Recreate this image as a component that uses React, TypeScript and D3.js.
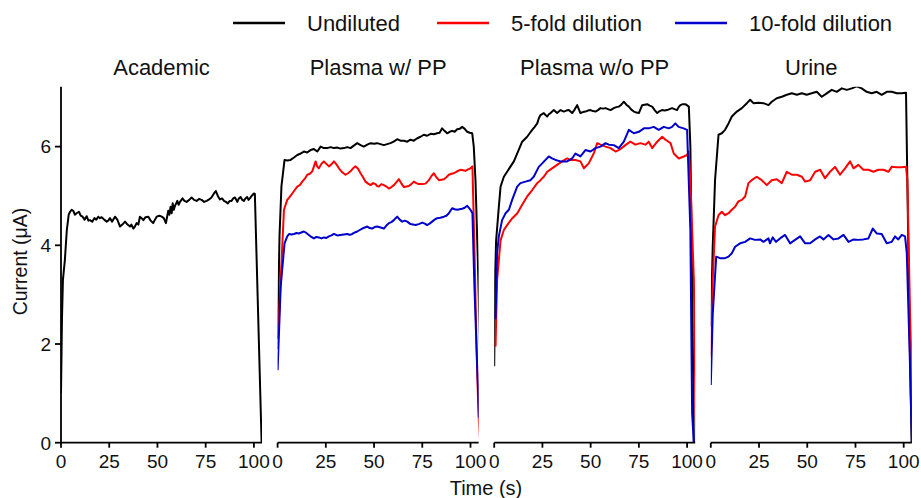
import React from 'react';
import * as d3 from 'd3';

type Pt = [number, number];

const PANELS = ['Academic', 'Plasma w/ PP', 'Plasma w/o PP', 'Urine'];
const SERIES = ['Undiluted', '5-fold dilution', '10-fold dilution'];
const COLORS = ['#000000', '#ff0000', '#0000cd'];
const X_TICKS = [0, 25, 50, 75, 100];
const Y_TICKS = [0, 2, 4, 6];

// [time (s), current (µA)]
const academicUndiluted: Pt[] = [[0,1.0],[0.5,2.5],[1,3.3],[2,3.7],[3,4.3],[4,4.62],[4.7,4.68],[5.5,4.72],[6.4,4.70],[7.2,4.62],[8.1,4.65],[9.3,4.68],[10.2,4.6],[11.2,4.58],[12.2,4.52],[13.3,4.59],[14.2,4.5],[15,4.51],[16.2,4.48],[17.3,4.55],[18.3,4.52],[19.3,4.58],[20.2,4.55],[21.1,4.57],[22.4,4.52],[23.7,4.48],[24.5,4.5],[25.4,4.55],[26.5,4.48],[28,4.58],[29.2,4.52],[30.6,4.38],[31.8,4.42],[33.2,4.48],[34.5,4.42],[35.8,4.38],[36.5,4.42],[37.5,4.34],[38.3,4.38],[39.2,4.45],[40.1,4.42],[40.9,4.58],[41.8,4.55],[42.7,4.51],[43.8,4.57],[45.3,4.58],[46.5,4.5],[47.8,4.45],[48.7,4.52],[49.6,4.58],[51,4.6],[52.2,4.58],[53.3,4.55],[54.4,4.45],[55.6,4.7],[56.2,4.62],[56.8,4.78],[57.4,4.65],[57.9,4.85],[58.5,4.72],[59.1,4.8],[60.3,4.9],[61,4.82],[61.7,4.88],[63,4.95],[64,4.9],[65.1,4.88],[66.5,4.92],[67.7,4.97],[69,4.92],[70.3,4.9],[71.5,4.94],[72.9,4.92],[74.2,4.88],[75.5,4.9],[76.8,4.93],[78,4.97],[79.3,5.05],[80.3,5.1],[81.3,5.0],[82.4,4.93],[83.5,4.95],[84.5,4.9],[85.5,4.88],[86.5,4.85],[87.5,4.9],[88.4,4.9],[89.3,4.95],[90.2,4.97],[91.4,4.88],[92.2,4.95],[93.1,4.98],[94,4.92],[94.8,4.9],[95.6,4.95],[96.5,4.98],[97.2,4.92],[97.9,4.95],[98.8,5.0],[100,5.05],[100.5,5.04],[104,0]];

const plasmaPPUndiluted: Pt[] = [[0,2.1],[1,4.2],[2,5.2],[3.6,5.73],[5,5.72],[6.7,5.73],[8.5,5.78],[10.2,5.83],[12,5.86],[13.6,5.9],[15.3,5.88],[17.1,5.93],[18.8,5.95],[20.6,5.9],[22.3,6.0],[24,5.97],[25.7,5.97],[27.5,5.99],[29.2,5.97],[31,5.98],[32.7,5.96],[34.4,5.97],[36.1,5.99],[37.8,5.97],[39.5,6.02],[41.3,6.07],[43,6.03],[44.7,6.0],[46.5,6.04],[48.2,6.07],[50,6.06],[51.6,6.07],[53.3,6.05],[55.1,6.03],[56.8,6.05],[58.5,6.07],[60.2,6.1],[62,6.15],[63.7,6.12],[65.5,6.12],[67.2,6.1],[68.9,6.14],[70.6,6.12],[72.4,6.17],[74.1,6.2],[75.8,6.24],[77.5,6.22],[79.3,6.26],[81,6.25],[82.7,6.27],[84,6.28],[85.3,6.37],[86.5,6.32],[87.9,6.27],[89.2,6.3],[90.5,6.32],[91.8,6.3],[93.1,6.35],[94.4,6.36],[95.7,6.4],[97,6.36],[98.3,6.3],[99.6,6.28],[100.9,6.27],[101.7,6.0],[102.6,5.3],[103.8,3.7],[105.2,1.5]];
const plasmaPP5fold: Pt[] = [[0,1.9],[1.6,3.3],[3.3,4.72],[5,4.92],[6.3,4.98],[7.6,5.05],[8.9,5.12],[10.2,5.19],[11.5,5.22],[12.8,5.29],[14.1,5.35],[15.4,5.43],[16.7,5.45],[18,5.5],[19,5.62],[19.7,5.7],[20.5,5.6],[21.4,5.56],[22.7,5.65],[24,5.7],[25.3,5.65],[26.6,5.6],[27.9,5.64],[29.2,5.7],[30.5,5.64],[31.8,5.56],[33.5,5.48],[35.2,5.43],[36.5,5.46],[37.8,5.5],[39.1,5.56],[40.4,5.6],[41.7,5.55],[43,5.46],[44.3,5.38],[45.6,5.29],[46.9,5.25],[48.2,5.22],[49.5,5.26],[50.8,5.24],[51.6,5.2],[52.5,5.19],[53.8,5.24],[55.1,5.22],[56.4,5.19],[57.7,5.15],[59,5.18],[60.3,5.22],[61.6,5.28],[62.9,5.34],[64.2,5.25],[65.5,5.18],[66.8,5.19],[68,5.2],[69.3,5.24],[70.6,5.29],[71.9,5.26],[73.2,5.24],[75,5.24],[76.7,5.25],[78.4,5.32],[79.7,5.4],[81,5.46],[82.3,5.38],[83.6,5.32],[84.9,5.33],[86.2,5.34],[87.5,5.38],[88.8,5.43],[90.1,5.45],[91.4,5.46],[93.1,5.5],[94.8,5.53],[96.1,5.52],[97.4,5.51],[98.7,5.54],[100,5.56],[101,5.6],[102,4.0],[103.1,2.0],[104.1,0.6],[105,0]];
const plasmaPP10fold: Pt[] = [[0,1.47],[1.6,3.16],[3.6,4.04],[5,4.18],[5.9,4.23],[7.2,4.22],[8.5,4.23],[9.8,4.25],[11,4.24],[12.3,4.26],[13.6,4.28],[14.9,4.25],[16.2,4.21],[17.5,4.17],[18.8,4.14],[20.1,4.17],[21.4,4.16],[22.7,4.14],[24,4.16],[25.3,4.15],[26.6,4.18],[27.9,4.2],[29.2,4.23],[30.9,4.2],[32.6,4.21],[34.3,4.22],[36.1,4.23],[37.4,4.21],[38.7,4.23],[40,4.26],[41.3,4.28],[42.6,4.31],[43.9,4.34],[45.2,4.36],[46.5,4.38],[47.8,4.35],[49,4.34],[50.3,4.37],[51.6,4.38],[53.4,4.36],[55.1,4.34],[56.4,4.4],[57.7,4.45],[59,4.47],[60.3,4.51],[61.2,4.55],[62,4.58],[63.3,4.52],[64.6,4.48],[65.9,4.5],[67.2,4.48],[68.9,4.43],[70.2,4.42],[71.5,4.41],[73.2,4.43],[75,4.46],[76.3,4.44],[77.5,4.41],[78.8,4.44],[80.1,4.48],[81.4,4.52],[82.7,4.55],[84.4,4.56],[86.2,4.58],[87.5,4.6],[88.8,4.65],[89.6,4.7],[90.5,4.75],[91.8,4.73],[93.1,4.72],[94.4,4.73],[95.7,4.74],[97,4.76],[98.3,4.8],[99.2,4.76],[100,4.72],[101,4.65],[102,3.2],[103.5,1.5],[104.5,0.5]];

const plasmaNoPPUndiluted: Pt[] = [[0,1.55],[0.5,3.5],[1,4.1],[2.4,4.78],[3.3,5.19],[5,5.39],[6.7,5.49],[8.5,5.6],[10.2,5.7],[11.9,5.86],[13.2,5.98],[14.5,6.1],[15.8,6.15],[17.1,6.2],[18.4,6.27],[19.7,6.34],[21,6.4],[22.3,6.47],[23.2,6.58],[24,6.64],[25.7,6.68],[26.6,6.64],[27.5,6.61],[28.4,6.66],[29.2,6.68],[30.9,6.74],[32.6,6.68],[34.4,6.74],[36.1,6.71],[37.4,6.73],[38.7,6.74],[40.4,6.68],[41.7,6.75],[43,6.84],[44.7,6.68],[46,6.7],[47.3,6.71],[48.6,6.73],[49.9,6.74],[51.2,6.72],[52.5,6.71],[53.8,6.74],[55.1,6.78],[56.4,6.77],[57.7,6.78],[59,6.76],[60.3,6.74],[62,6.78],[63.3,6.8],[64.6,6.81],[65.9,6.85],[67.2,6.91],[68.5,6.85],[69.8,6.81],[71.1,6.75],[72.4,6.71],[73.7,6.69],[75,6.68],[76.7,6.84],[78,6.85],[79.3,6.86],[80.6,6.83],[81.9,6.81],[83.2,6.74],[84.5,6.68],[85.8,6.72],[87,6.74],[88.3,6.73],[89.6,6.74],[90.9,6.76],[92.2,6.78],[93.5,6.76],[94.8,6.74],[95.6,6.8],[96.5,6.84],[97.8,6.86],[99.1,6.86],[100.9,6.81],[101.7,6.0],[102.6,3.3],[103.5,0]];
const plasmaNoPP5fold: Pt[] = [[0.7,1.95],[1.5,3.3],[3.3,4.1],[5,4.31],[6.7,4.41],[9.4,4.55],[12,4.65],[14.5,4.82],[17.1,4.99],[19.7,5.12],[22.3,5.26],[24,5.32],[25.7,5.39],[27.5,5.49],[30,5.56],[32.6,5.63],[35.2,5.7],[37.8,5.76],[39.5,5.73],[42.1,5.73],[44.7,5.7],[46.5,5.56],[49,5.66],[51.6,5.86],[53.4,6.07],[55.1,6.04],[57.7,6.0],[60.3,5.97],[62.9,5.9],[65.5,5.95],[68,6.03],[70.6,6.1],[73.2,6.04],[75.8,6.07],[78.4,6.04],[80.1,6.1],[81.9,5.97],[84.5,6.1],[87.1,6.2],[88.8,6.14],[91.4,6.07],[93.1,5.86],[95.7,5.76],[98.3,5.8],[100,5.83],[100.9,5.9],[101.7,5.32],[103.5,3.3],[104.4,0.6],[105,0]];
const plasmaNoPP10fold: Pt[] = [[0.7,2.5],[1.5,3.84],[2.4,4.18],[4.1,4.51],[5.9,4.65],[7.6,4.72],[9.3,4.92],[11.9,5.19],[13.6,5.26],[16.2,5.29],[18.8,5.32],[20.5,5.39],[23.1,5.59],[24.9,5.66],[26.6,5.73],[28.3,5.8],[30,5.76],[31.8,5.73],[34.4,5.7],[37.8,5.7],[40.4,5.76],[42.1,5.86],[44.7,5.8],[47.3,5.93],[49.9,5.9],[52.5,5.97],[55.1,6.0],[57.7,6.07],[59.4,6.04],[62,6.03],[64.6,5.97],[67.2,6.1],[69.8,6.34],[72.4,6.27],[75,6.3],[77.6,6.37],[80.1,6.37],[82.7,6.4],[85.3,6.34],[87.9,6.4],[90.5,6.37],[92.2,6.4],[93.9,6.47],[95.6,6.4],[98.2,6.37],[100,6.34],[101.7,4.3],[102.6,0.6],[103.5,0]];

const urineUndiluted: Pt[] = [[0,2.35],[1,3.97],[2.2,5.32],[4,6.24],[5.7,6.27],[7.4,6.34],[9.2,6.47],[10.9,6.61],[13.5,6.71],[16.1,6.78],[18.7,6.88],[20.4,6.95],[22.1,6.88],[24.7,6.89],[27.3,6.88],[29.9,6.84],[31.6,6.91],[34.2,6.98],[36.8,7.01],[39.4,7.05],[42,7.08],[44.6,7.05],[47.2,7.08],[49.7,7.05],[52.3,7.08],[54.9,7.11],[57.5,7.01],[60.1,7.08],[62.7,7.15],[65.3,7.11],[67.9,7.18],[70.5,7.15],[73.1,7.18],[75.6,7.22],[78.2,7.18],[80.8,7.11],[83.4,7.08],[86,7.11],[88.6,7.05],[91.2,7.11],[93.8,7.11],[96.4,7.08],[99,7.08],[101.2,7.09],[101.9,5.3],[102.9,2.6],[104.1,0]];
const urine5fold: Pt[] = [[0,1.74],[1,3.3],[2.2,4.38],[4,4.61],[5.7,4.68],[7.4,4.61],[9.2,4.65],[10.9,4.72],[12.6,4.78],[14.3,4.89],[16.1,4.92],[17.8,4.99],[19.5,5.26],[21.2,5.32],[23.8,5.39],[26.4,5.32],[29,5.22],[31.6,5.32],[34.2,5.34],[36.8,5.26],[39.4,5.49],[42,5.43],[44.6,5.43],[47.2,5.39],[48.9,5.29],[51.5,5.32],[54.1,5.49],[56.7,5.53],[59.2,5.36],[61.8,5.49],[64.4,5.59],[67,5.43],[69.6,5.56],[72.2,5.7],[74,5.56],[76.5,5.63],[79.1,5.53],[81.7,5.53],[84.3,5.49],[86.9,5.53],[89.5,5.53],[92.1,5.49],[93.8,5.59],[96.4,5.58],[99,5.58],[101.2,5.59],[101.9,5.32],[103.3,2.6],[104.1,1.6],[104.6,0]];
const urine10fold: Pt[] = [[0,1.17],[1,2.6],[2.8,3.77],[4.8,3.74],[7.4,3.74],[9.2,3.77],[10.9,3.84],[12.6,3.97],[15.2,4.04],[17.8,4.07],[20.4,4.14],[22.9,4.11],[25.6,4.12],[27.3,4.07],[29.9,4.14],[30.7,4.04],[32.1,4.16],[33.8,4.07],[35.9,4.14],[38.5,4.21],[41.1,4.04],[43.7,4.11],[46.3,4.18],[48.9,4.04],[51.5,4.04],[54.1,4.12],[56.6,4.18],[58.4,4.12],[61,4.21],[63.6,4.12],[66.2,4.14],[68.8,4.21],[71.4,4.07],[74,4.12],[76.6,4.11],[79.1,4.12],[81.7,4.14],[84,4.34],[86,4.24],[88.6,4.23],[91.2,4.04],[93.8,4.07],[95.5,4.18],[97.2,4.12],[99,4.21],[100.7,4.18],[101.6,3.84],[103,1.95],[104.3,0]];

const PANEL_SERIES: (Pt[] | null)[][] = [
  [academicUndiluted, null, null],
  [plasmaPPUndiluted, plasmaPP5fold, plasmaPP10fold],
  [plasmaNoPPUndiluted, plasmaNoPP5fold, plasmaNoPP10fold],
  [urineUndiluted, urine5fold, urine10fold],
];

const W = 921;
const H = 498;
const PANEL_LEFT = 61;
const PANEL_STEP = 216.6;
const PANEL_W = 201;
const PANEL_TOP = 86.7;
const PANEL_BOTTOM = 442.7;
const FONT = "'Liberation Sans', Arial, Helvetica, sans-serif";

export default function App() {
  const y = d3.scaleLinear().domain([0, 7.214]).range([PANEL_BOTTOM, PANEL_TOP]);
  const legendX = [233, 437, 675];

  return (
    <div style={{ position: 'absolute', left: 0, top: 0 }}>
      <svg width={W} height={H} style={{ display: 'block', background: '#fff' }} fontFamily={FONT}>
        <defs>
          {PANELS.map((_, i) => {
            const x0 = PANEL_LEFT + i * PANEL_STEP;
            return (
              <clipPath id={`clip${i}`} key={i}>
                <rect x={x0} y={PANEL_TOP} width={PANEL_W} height={PANEL_BOTTOM - PANEL_TOP + 1} />
              </clipPath>
            );
          })}
        </defs>

        {/* legend */}
        {SERIES.map((s, i) => (
          <g key={s}>
            <line x1={legendX[i]} x2={legendX[i] + 52} y1={23} y2={23} stroke={COLORS[i]} strokeWidth={2.7} />
            <text x={legendX[i] + 74} y={30.5} fontSize={22} fill="#111">{s}</text>
          </g>
        ))}

        {PANELS.map((name, i) => {
          const x0 = PANEL_LEFT + i * PANEL_STEP;
          const x = d3.scaleLinear().domain([0, 104.2]).range([x0, x0 + PANEL_W]);
          const line = d3.line<Pt>().x(d => x(d[0])).y(d => y(d[1]));
          return (
            <g key={name}>
              <text x={x0 + PANEL_W / 2} y={75} fontSize={22} textAnchor="middle" fill="#111">{name}</text>
              <g clipPath={`url(#clip${i})`}>
                {PANEL_SERIES[i].map((data, k) =>
                  data ? (
                    <path key={k} d={line(data) || ''} fill="none" stroke={COLORS[k]} strokeWidth={2} strokeLinejoin="round" />
                  ) : null
                )}
              </g>
              <line x1={x0} x2={x0 + PANEL_W} y1={PANEL_BOTTOM} y2={PANEL_BOTTOM} stroke="#000" strokeWidth={1.8} />
              {X_TICKS.map(t => (
                <g key={t}>
                  <line x1={x(t)} x2={x(t)} y1={PANEL_BOTTOM} y2={PANEL_BOTTOM + 5} stroke="#000" strokeWidth={1.8} />
                  <text x={x(t)} y={468} fontSize={19} textAnchor="middle" fill="#111">{t}</text>
                </g>
              ))}
            </g>
          );
        })}

        {/* y axis on first panel */}
        <line x1={PANEL_LEFT} x2={PANEL_LEFT} y1={PANEL_TOP} y2={PANEL_BOTTOM + 0.9} stroke="#000" strokeWidth={1.8} />
        {Y_TICKS.map(v => (
          <g key={v}>
            <line x1={PANEL_LEFT - 6} x2={PANEL_LEFT} y1={y(v)} y2={y(v)} stroke="#000" strokeWidth={1.8} />
            <text x={PANEL_LEFT - 10} y={y(v)} dy="0.36em" fontSize={19} textAnchor="end" fill="#111">{v}</text>
          </g>
        ))}

        <text transform={`translate(27,261.5) rotate(-90)`} fontSize={19.5} textAnchor="middle" fill="#111">Current (μA)</text>
        <text x={486} y={494.5} fontSize={20} textAnchor="middle" fill="#111">Time (s)</text>
      </svg>
    </div>
  );
}
